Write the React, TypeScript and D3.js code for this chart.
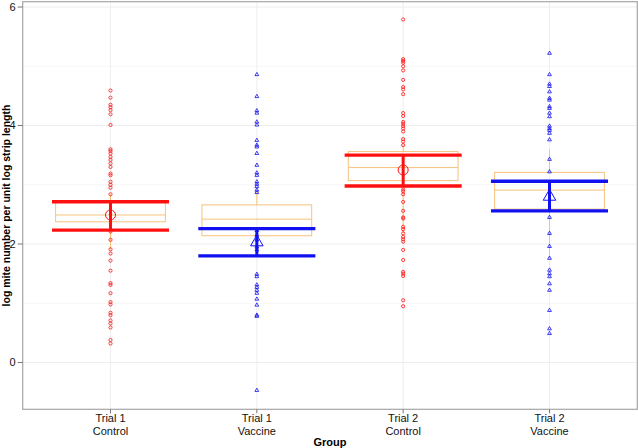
import React from 'react';
import * as d3 from 'd3';

// groups on the x axis (two-line labels)
const trials = ['Trial 1', 'Trial 1', 'Trial 2', 'Trial 2'];
const treatments = ['Control', 'Vaccine', 'Control', 'Vaccine'];

const trial1Control = [4.59, 4.47, 4.35, 4.31, 4.26, 4.19, 4.01, 3.6, 3.57, 3.53, 3.47, 3.42, 3.36, 3.3, 3.19, 3.16,
  3.05, 3.0, 2.95, 2.84, 2.21, 2.07, 1.91, 1.84, 1.72, 1.55, 1.34, 1.31, 1.17, 1.02, 0.98, 0.84, 0.8, 0.71, 0.66,
  0.59, 0.38, 0.32];
const trial1Vaccine = [4.86, 4.49, 4.25, 4.21, 4.06, 4.01, 3.75, 3.67, 3.64, 3.53, 3.33, 3.2, 3.16, 3.05, 3.01, 2.97,
  2.91, 2.87, 2.23, 2.15, 2.07, 1.95, 1.9, 1.49, 1.45, 1.31, 1.27, 1.22, 1.17, 1.07, 0.97, 0.8, 0.78, -0.47];
const trial2Control = [5.79, 5.12, 5.09, 5.06, 5.0, 4.93, 4.77, 4.65, 4.61, 4.53, 4.21, 4.16, 4.06, 4.03, 3.99, 3.95,
  3.9, 3.77, 3.73, 3.67, 2.92, 2.89, 2.84, 2.71, 2.56, 2.45, 2.43, 2.29, 2.25, 2.18, 2.12, 2.08, 2.04, 1.9, 1.73,
  1.53, 1.5, 1.46, 1.05, 0.95];
const trial2Vaccine = [5.22, 4.86, 4.7, 4.66, 4.57, 4.46, 4.43, 4.32, 4.29, 4.21, 4.15, 3.99, 3.95, 3.92, 3.87, 3.76,
  3.43, 3.22, 2.45, 2.18, 1.96, 1.76, 1.56, 1.5, 1.45, 1.33, 1.22, 0.88, 0.57, 0.49];
const observations = [trial1Control, trial1Vaccine, trial2Control, trial2Vaccine];

// box summaries
const q1 = [2.375, 2.14, 3.07, 2.59];
const medians = [2.49, 2.42, 3.29, 2.91];
const q3 = [2.72, 2.66, 3.56, 3.21];
const whiskerLow = [1.91, 1.9, 2.18, 1.76];
const whiskerHigh = [2.84, 2.88, 3.67, 3.59];

// mean and interval
const means = [2.49, 2.03, 3.25, 2.8];
const ciLow = [2.235, 1.8, 2.98, 2.56];
const ciHigh = [2.713, 2.26, 3.5, 3.06];

const yTicks = [0, 2, 4, 6];
const yMinor = [1, 3, 5];

const W = 638;
const H = 448;
const panel = { left: 22.7, right: 637.3, top: 1.7, bottom: 409.3 };
const FONT = '"Liberation Sans", Arial, sans-serif';
const boxColor = '#f6c27c';
const grid = '#ececec';

const App = () => {
  const idx = trials.map((_, i) => i);
  const x = d3.scalePoint<number>().domain(idx).range([panel.left, panel.right]).padding(0.6);
  const step = x.step();
  const y = d3.scaleLinear().domain([-0.79, 6.09]).range([panel.bottom, panel.top]);

  const colorOf = (i: number) => (treatments[i] === 'Control' ? '#ff1010' : '#1010f0');
  const isControl = (i: number) => treatments[i] === 'Control';

  const boxHalf = step * 0.375;
  const barHalf = step * 0.4;

  const triangle = (cx: number, cy: number, s: number) => {
    const h = s * 0.866;
    return `M${cx},${cy - (2 * h) / 3}L${cx + s / 2},${cy + h / 3}L${cx - s / 2},${cy + h / 3}Z`;
  };

  return (
    <div style={{ position: 'absolute', left: 0, top: 0 }}>
      <svg width={W} height={H} style={{ display: 'block', background: '#fff' }}>
        {/* grid */}
        {yMinor.map((t) => (
          <line key={'mi' + t} x1={panel.left} x2={panel.right} y1={y(t)} y2={y(t)} stroke="#f4f4f4" strokeWidth={0.8} />
        ))}
        {yTicks.map((t) => (
          <line key={'ma' + t} x1={panel.left} x2={panel.right} y1={y(t)} y2={y(t)} stroke={grid} strokeWidth={0.9} />
        ))}
        {idx.map((i) => (
          <line key={'vg' + i} x1={x(i)} x2={x(i)} y1={panel.top} y2={panel.bottom} stroke={grid} strokeWidth={0.9} />
        ))}

        {/* boxes */}
        {idx.map((i) => {
          const cx = x(i)!;
          return (
            <g key={'box' + i} stroke={boxColor} strokeWidth={1} fill="none">
              <line x1={cx} x2={cx} y1={y(whiskerHigh[i])} y2={y(q3[i])} />
              <line x1={cx} x2={cx} y1={y(q1[i])} y2={y(whiskerLow[i])} />
              <rect x={cx - boxHalf} width={boxHalf * 2} y={y(q3[i])} height={y(q1[i]) - y(q3[i])} />
              <line x1={cx - boxHalf} x2={cx + boxHalf} y1={y(medians[i])} y2={y(medians[i])} />
            </g>
          );
        })}

        {/* observations */}
        {observations.map((vals, i) => {
          const cx = x(i)!;
          return (
            <g key={'pts' + i} stroke={colorOf(i)} strokeWidth={0.8} fill="none">
              {vals.map((v, j) =>
                isControl(i) ? (
                  <circle key={j} cx={cx} cy={y(v)} r={1.6} />
                ) : (
                  <path key={j} d={triangle(cx, y(v), 3.8)} />
                )
              )}
            </g>
          );
        })}

        {/* interval bars and means */}
        {idx.map((i) => {
          const cx = x(i)!;
          const c = colorOf(i);
          return (
            <g key={'ci' + i}>
              <line x1={cx} x2={cx} y1={y(ciHigh[i])} y2={y(ciLow[i])} stroke={c} strokeWidth={3} />
              <line x1={cx - barHalf} x2={cx + barHalf} y1={y(ciHigh[i])} y2={y(ciHigh[i])} stroke={c} strokeWidth={3.4} />
              <line x1={cx - barHalf} x2={cx + barHalf} y1={y(ciLow[i])} y2={y(ciLow[i])} stroke={c} strokeWidth={3.4} />
              {isControl(i) ? (
                <circle cx={cx} cy={y(means[i])} r={5} fill="none" stroke={c} strokeWidth={1} />
              ) : (
                <path d={triangle(cx, y(means[i]), 12.5)} fill="none" stroke={c} strokeWidth={1} />
              )}
            </g>
          );
        })}

        {/* panel border */}
        <rect x={panel.left} y={panel.top} width={panel.right - panel.left} height={panel.bottom - panel.top}
          fill="none" stroke="#a6a6a6" strokeWidth={1.2} />

        {/* y axis */}
        {yTicks.map((t) => (
          <g key={'yt' + t}>
            <line x1={panel.left - 5} x2={panel.left} y1={y(t)} y2={y(t)} stroke="#777" strokeWidth={1} />
            <text x={panel.left - 7} y={y(t)} dy="0.35em" textAnchor="end" fontFamily={FONT} fontSize={11} fill="#111">
              {t}
            </text>
          </g>
        ))}
        <text transform={`translate(6,${(panel.top + panel.bottom) / 2}) rotate(-90)`} textAnchor="middle"
          dy="0.35em" fontFamily={FONT} fontSize={10.5} fontWeight="bold" fill="#000">
          log mite number per unit log strip length
        </text>

        {/* x axis */}
        {idx.map((i) => (
          <g key={'xt' + i}>
            <line x1={x(i)} x2={x(i)} y1={panel.bottom} y2={panel.bottom + 4} stroke="#777" strokeWidth={1} />
            <text x={x(i)} y={panel.bottom + 13} textAnchor="middle" fontFamily={FONT} fontSize={11} fill="#111">
              {trials[i]}
            </text>
            <text x={x(i)} y={panel.bottom + 26} textAnchor="middle" fontFamily={FONT} fontSize={11} fill="#111">
              {treatments[i]}
            </text>
          </g>
        ))}
        <text x={(panel.left + panel.right) / 2} y={panel.bottom + 37} textAnchor="middle" fontFamily={FONT}
          fontSize={11} fontWeight="bold" fill="#000">
          Group
        </text>
      </svg>
    </div>
  );
};

export default App;
